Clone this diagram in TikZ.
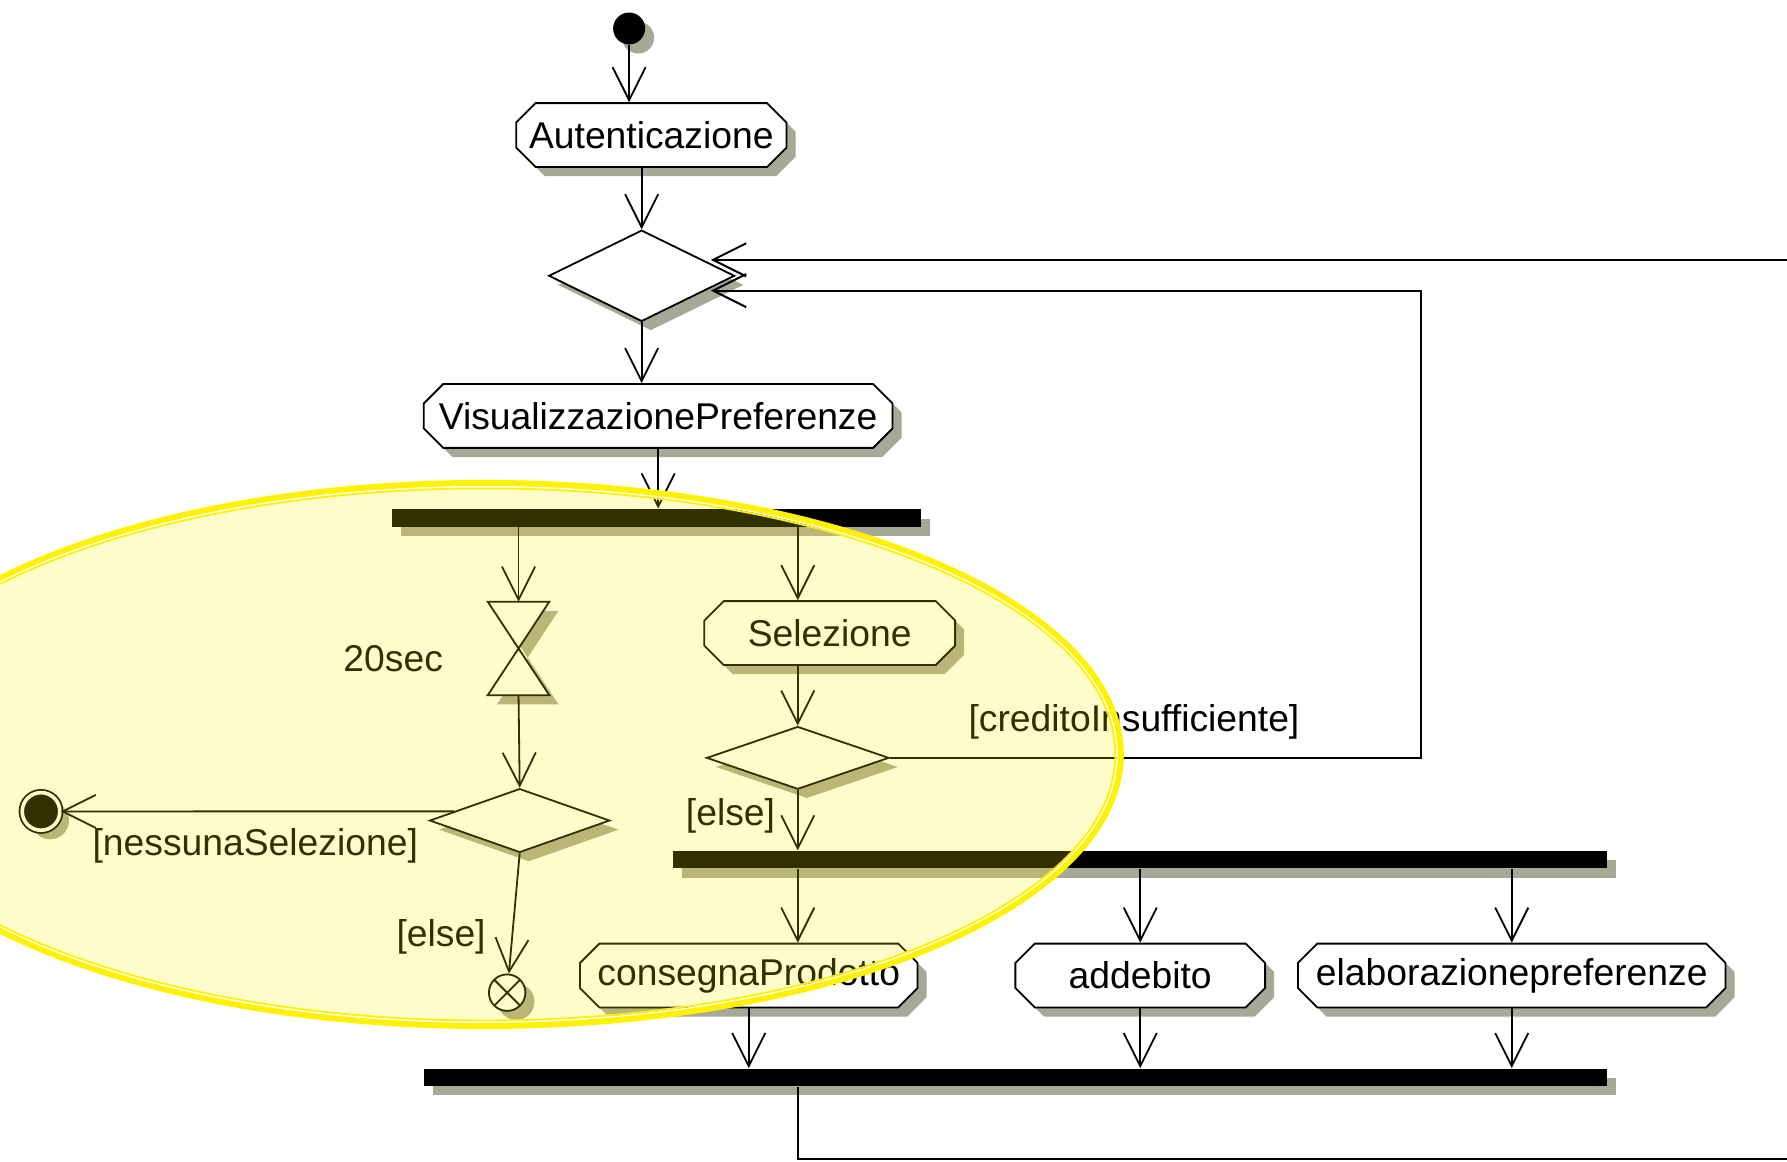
\documentclass[tikz,border=0pt]{standalone}
\usepackage{fontspec}
\setmainfont{Liberation Sans}
\usetikzlibrary{arrows.meta,calc,shapes.geometric,shapes.misc,shadows}
\definecolor{shadowgray}{RGB}{168,168,150}
\tikzset{
    uml shadow/.style = {
        drop shadow={shadow xshift=0.08cm, shadow yshift=-0.08cm, fill=shadowgray, opacity=1},
        },
    guard/.style = {
        inner sep=0pt,
        },
    loop line/.style = {
        line width=0.5pt,
        },
}

\begin{document}
\begin{tikzpicture}[
            x=0.01cm, y=-0.01cm,
            line width=0.45pt,
            >={Straight Barb[length=0.29cm, width=0.29cm]},
            every node/.style={font=\fontsize{9.3}{11}\selectfont},
            ActionBlock/.style={chamfered rectangle, chamfered rectangle xsep=0.07cm, chamfered rectangle ysep=0.1cm, draw, fill=white, minimum height=0.56cm, inner sep=0pt, uml shadow},
            DecisionBlock/.style={diamond, draw, fill=white, inner sep=0pt, uml shadow},
            SyncBar/.style={rectangle, fill=black, minimum height=0.15cm, inner sep=0pt, uml shadow},
            StartDot/.style={circle, fill=black, minimum size=0.28cm, inner sep=0pt, uml shadow},
            EndDot/.style={circle, draw, fill=black, double=white, double distance=0.9pt, minimum size=0.33cm, inner sep=0pt, uml shadow},
            FlowEnd/.style={circle, draw, fill=white, minimum size=0.32cm, inner sep=0pt, uml shadow,
                path picture={\draw (path picture bounding box.north west) -- (path picture bounding box.south east)
                                    (path picture bounding box.north east) -- (path picture bounding box.south west);}},
            ]
            \clip (0,0) rectangle (1568,1019);
            {
            % main flow
            \node [StartDot] (start) at (552,25) {};
            \node [ActionBlock, minimum width=2.37cm] (aut) at (571.5,118.5) {Autenticazione};
            \node [DecisionBlock, minimum width=1.63cm, minimum height=0.8cm] (d1) at (563,242) {};
            \node [ActionBlock, minimum width=4.11cm] (vis) at (577.5,365) {VisualizzazionePreferenze};
            \node [SyncBar, minimum width=4.64cm] (bar1) at (576,454.5) {};

            % timer branch
            \coordinate (t20top) at (455,528);
            \coordinate (t20bot) at (455,610);
            \fill [shadowgray] ($(t20top)+(-19,8)$) -- ++(54,0) -- ($(t20bot)+(-19,8)$) -- ++(54,0) -- cycle;
            \draw [fill=white] ($(t20top)+(-27,0)$) -- ($(t20top)+(27,0)$) -- ($(t20bot)+(-27,0)$) -- ($(t20bot)+(27,0)$) -- cycle;
            \node [guard] (t20lbl) at (345,578) {20sec};
            \node [DecisionBlock, minimum width=1.58cm, minimum height=0.56cm] (d2) at (456,720) {};
            \node [EndDot] (endAct) at (36,712) {};
            \node [FlowEnd] (ff) at (445,871) {};
            \node [guard] (noSel) at (224,742) {[nessunaSelezione]};
            \node [guard] (else1) at (387,822) {[else]};

            % selection branch
            \node [ActionBlock, minimum width=2.2cm] (sel) at (728,555.5) {Selezione};
            \node [DecisionBlock, minimum width=1.6cm, minimum height=0.55cm] (d3) at (700,665) {};
            \node [guard] (credit) at (995,633) {[creditoInsufficiente]};
            \node [guard] (else2) at (641,716) {[else]};
            \coordinate (loopB) at (1247,255);

            % parallel actions
            \node [SyncBar, minimum width=8.19cm] (bar2) at (1000.5,754.5) {};
            \node [ActionBlock, minimum width=2.96cm] (cons) at (657,856) {consegnaProdotto};
            \node [ActionBlock, minimum width=2.19cm] (add) at (1000.5,856) {addebito};
            \node [ActionBlock, minimum width=3.75cm] (elab) at (1326.5,856) {elaborazionepreferenze};
            \node [SyncBar, minimum width=10.38cm] (bar3) at (891,945.5) {};
            \coordinate (loopOut) at (1568,1017);
            \coordinate (loopIn) at (1568,228);
            }

            \draw[->] (start) -- (start |- aut.north);
            \draw[->] (aut.south -| d1.north) -- (d1.north);
            \draw[->] (d1.south) -- (d1.south |- vis.north);
            \draw[->] (vis.south) -- (vis.south |- bar1.north);
            \draw[->] (bar1.south -| t20top) -- (t20top);
            \draw[->] (t20bot) -- (d2.north);
            \draw[->] (d2.172) -- (endAct);
            \draw[->] (d2.south) -- (ff);
            \draw[->] (bar1.south -| d3.north) -- (sel.north -| d3.north);
            \draw[->] (sel.south -| d3.north) -- (d3.north);
            \draw[->, loop line] (d3.east) -| (loopB) -- (loopB -| d1.-10);
            \draw[->, loop line] (loopIn) -- (loopIn -| d1.10);
            \draw[->] (d3.south) -- (d3.south |- bar2.north);
            \draw[->] (bar2.south -| d3.south) -- (cons.north -| d3.south);
            \draw[->] (bar2.south -| add.north) -- (add.north);
            \draw[->] (bar2.south -| elab.north) -- (elab.north);
            \draw[->] (cons.south) -- (cons.south |- bar3.north);
            \draw[->] (add.south) -- (add.south |- bar3.north);
            \draw[->] (elab.south) -- (elab.south |- bar3.north);
            \draw[loop line] (bar3.south -| d3.south) |- (loopOut);

            % highlight
            \fill [yellow, fill opacity=0.2] (425,662) ellipse [x radius=5.58cm, y radius=2.38cm];
            \draw [yellow, line width=0.055cm] (425,662) ellipse [x radius=5.58cm, y radius=2.38cm];
            \draw [white, line width=0.012cm] (425,662) ellipse [x radius=5.548cm, y radius=2.348cm];
            \draw [yellow, line width=0.016cm] (425,662) ellipse [x radius=5.533cm, y radius=2.333cm];
\end{tikzpicture}
\end{document}
